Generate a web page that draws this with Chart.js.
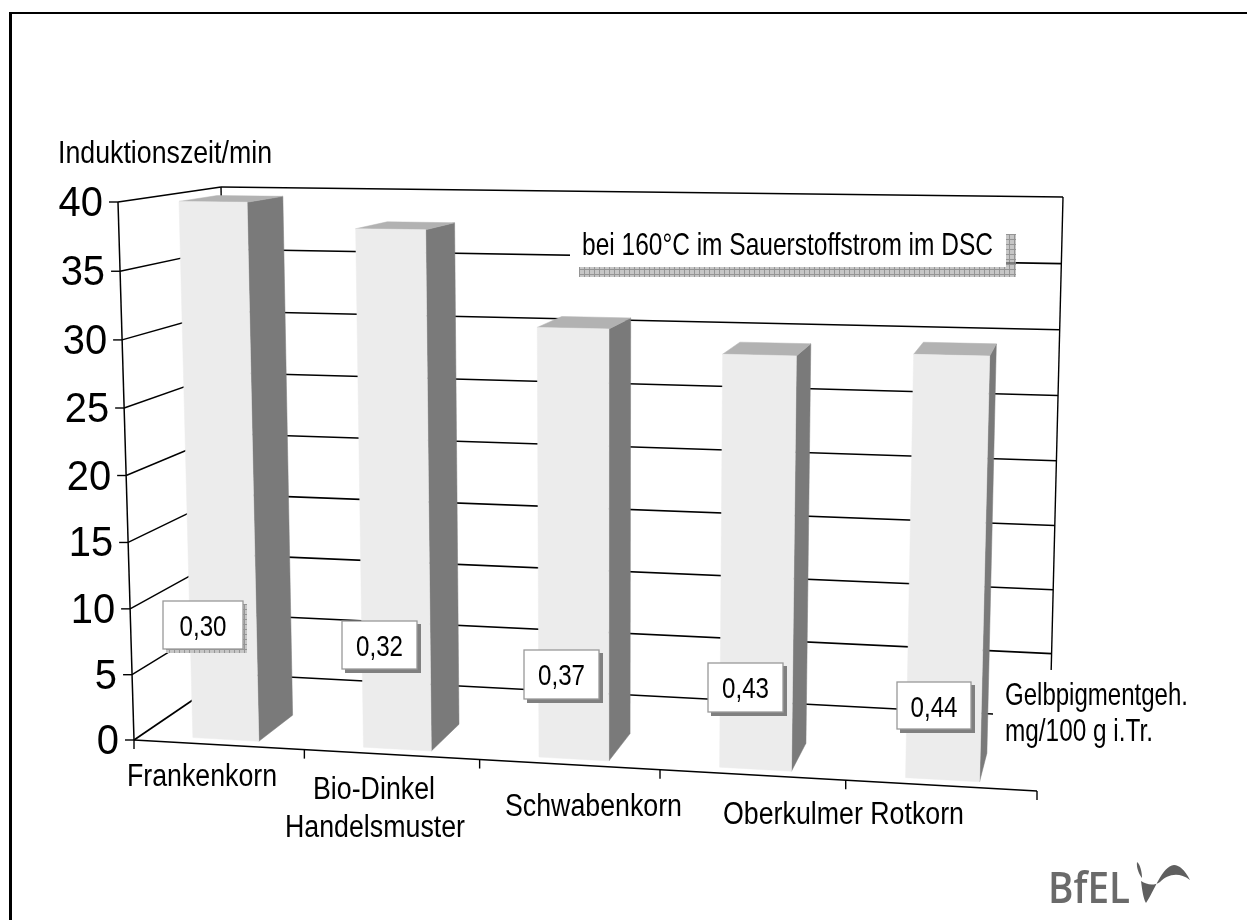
<!DOCTYPE html>
<html><head><meta charset="utf-8">
<style>html,body{margin:0;padding:0;background:#fff}canvas{display:block}</style>
<script src="https://cdn.jsdelivr.net/npm/chart.js@4"></script>
</head><body>
<canvas id="c" width="1247" height="920"></canvas>
<script>
const categories = ['Frankenkorn', ['Bio-Dinkel', 'Handelsmuster'], 'Schwabenkorn', 'Oberkulmer Rotkorn', ''];
const induktionszeit = [40.0, 38.2, 31.4, 29.8, 30.1];
const gelbpigment = ['0,30', '0,32', '0,37', '0,43', '0,44'];
const yTitle = 'Induktionszeit/min';
const noteText = 'bei 160°C im Sauerstoffstrom im DSC';
const sideTitle = ['Gelbpigmentgeh.', 'mg/100 g i.Tr.'];

// perspective frame of the 3D box
const FRONT = {bl:[134,740], br:[1037,791], tr:[1053,213], tl:[118,202]};
const BACK  = {bl:[231,674], br:[1050,717], tr:[1063,197], tl:[221,187]};
const BAR_W0 = 0.08, BAR_W1 = 0.47;
const C = {front:'#ececec', side:'#7a7a7a', top:'#b2b2b2'};

function homography(q){
  const [x0,y0]=q.bl,[x1,y1]=q.br,[x2,y2]=q.tr,[x3,y3]=q.tl;
  const dx1=x1-x2,dx2=x3-x2,sx=x0-x1+x2-x3,dy1=y1-y2,dy2=y3-y2,sy=y0-y1+y2-y3;
  const den=dx1*dy2-dx2*dy1,g=(sx*dy2-dx2*sy)/den,h=(dx1*sy-sx*dy1)/den;
  const a=x1-x0+g*x1,b=x3-x0+h*x3,d=y1-y0+g*y1,e=y3-y0+h*y3;
  return (u,v)=>{const w=g*u+h*v+1;return [(a*u+b*v+x0)/w,(d*u+e*v+y0)/w];};
}
const hF=homography(FRONT),hB=homography(BACK);
function P(u,v,w){const f=hF(u,v),b=hB(u,v);return [f[0]+(b[0]-f[0])*w,f[1]+(b[1]-f[1])*w];}

function line(ctx,a,b,lw){ctx.lineWidth=lw||1.5;ctx.strokeStyle='#000';ctx.beginPath();ctx.moveTo(a[0],a[1]);ctx.lineTo(b[0],b[1]);ctx.stroke();}
function poly(ctx,pts,fill){ctx.fillStyle=fill;ctx.beginPath();pts.forEach((p,i)=>i?ctx.lineTo(p[0],p[1]):ctx.moveTo(p[0],p[1]));ctx.closePath();ctx.fill();ctx.strokeStyle=fill;ctx.lineWidth=0.5;ctx.stroke();}
// text fitted to a measured width: size sets the height, width sets the horizontal scale
function text(ctx,s,x,base,size,width,fam,col){
  ctx.save();ctx.font=(fam||size+'px "Liberation Sans"');ctx.fillStyle=col||'#000';ctx.textAlign='left';ctx.textBaseline='alphabetic';
  const m=ctx.measureText(s).width;ctx.translate(x,base);ctx.scale(width?width/m:1,1);ctx.fillText(s,0,0);ctx.restore();
}
let hatch=null;
function hatchPattern(ctx){
  if(hatch)return hatch;
  const p=document.createElement('canvas');p.width=5;p.height=5;const g=p.getContext('2d');
  g.fillStyle='#c6c6c6';g.fillRect(0,0,5,5);g.fillStyle='#959595';g.fillRect(0,4,5,1);g.fillRect(4,0,1,5);
  hatch=ctx.createPattern(p,'repeat');return hatch;
}
// layout of the annotations
const BOXES=[[163,601,80,48,true],[342,621,75,48,false],[524,650,75,49,false],[708,663,75,49,false],[897,682,74,47,false]];
const XLABELS=[[[127,786,150]],[[313,799,122],[285,837,180]],[[505,816,177]],[[723,824,241]],[]];

const scene={
  id:'scene',
  beforeDraw(ch){const c=ch.ctx;c.save();c.fillStyle='#fff';c.fillRect(0,0,ch.width,ch.height);
    c.fillStyle='#000';c.fillRect(10,12,ch.width-10,2);c.fillRect(9,12,3,ch.height-12);c.restore();},
  beforeDatasetsDraw(ch){
    const c=ch.ctx,y=ch.scales.y,a=ch.chartArea;c.save();c.lineCap='butt';
    y.ticks.forEach(t=>{
      const v=(a.bottom-y.getPixelForValue(t.value))/(a.bottom-a.top);
      line(c,P(0,v,0),P(0,v,1),t.value===0||t.value===40?1.7:1.4);
      line(c,P(0,v,1),P(1,v,1),1.6);
    });
    line(c,P(0,0,1),P(0,1,1),1.4);
    line(c,P(1,0,1),P(1,1,1),1.4);
    c.restore();
  },
  beforeDatasetDraw(ch,args){
    const c=ch.ctx,a=ch.chartArea,meta=args.meta;c.save();
    meta.data.forEach(b=>{
      const u0=(b.x-b.width/2-a.left)/(a.right-a.left),u1=(b.x+b.width/2-a.left)/(a.right-a.left);
      const v=(a.bottom-b.y)/(a.bottom-a.top),v0=(a.bottom-b.base)/(a.bottom-a.top);
      poly(c,[P(u1,v0,BAR_W0),P(u1,v0,BAR_W1),P(u1,v,BAR_W1),P(u1,v,BAR_W0)],C.side);
      poly(c,[P(u0,v,BAR_W0),P(u1,v,BAR_W0),P(u1,v,BAR_W1),P(u0,v,BAR_W1)],C.top);
      poly(c,[P(u0,v0,BAR_W0),P(u1,v0,BAR_W0),P(u1,v,BAR_W0),P(u0,v,BAR_W0)],C.front);
    });
    c.restore();return false;
  },
  afterDatasetsDraw(ch){
    const c=ch.ctx,y=ch.scales.y,x=ch.scales.x,a=ch.chartArea;c.save();
    // front axes
    line(c,P(0,0,0),P(0,1,0),1.5);
    line(c,P(0,0,0),P(1,0,0),1.7);
    y.ticks.forEach(t=>{
      const v=(a.bottom-y.getPixelForValue(t.value))/(a.bottom-a.top),p=P(0,v,0);
      line(c,[p[0]-9,p[1]],p,1.4);
      c.font='42px "Liberation Sans"';const s=String(t.value),m=c.measureText(s).width*0.95;
      text(c,s,p[0]-15-m,p[1]+14,42,m);
    });
    for(let i=0;i<=categories.length;i++){
      const px=i<categories.length?(x.getPixelForValue(i)-(a.right-a.left)/categories.length/2):a.right;
      const p=P((px-a.left)/(a.right-a.left),0,0);
      line(c,p,[p[0],p[1]+9],1.4);
    }
    // category labels
    categories.forEach((lab,i)=>{[].concat(lab).forEach((s,k)=>{const L=XLABELS[i][k];if(L&&s)text(c,s,L[0],L[1],31,L[2]);});});
    text(c,yTitle,58,163,31.5,214);
    // note box
    c.fillStyle='#fff';c.fillRect(570,225,436,42);
    c.fillStyle=hatchPattern(c);c.fillRect(579,267,437,10);c.fillRect(1006,234,10,33);
    c.strokeStyle='#666';c.lineWidth=1.5;c.beginPath();c.moveTo(1006,263);c.lineTo(1016,263);c.stroke();
    text(c,noteText,582,255,30.5,411);
    // side title box
    c.fillStyle='#fff';c.fillRect(993,670,200,80);c.fillRect(993,720,60,60);
    text(c,sideTitle[0],1005,705,30.5,183);
    text(c,sideTitle[1],1005,741,30.5,148);
    // Gelbpigment boxes
    gelbpigment.forEach((s,i)=>{
      const [bx,by,bw,bh,h]=BOXES[i];
      c.fillStyle=h?hatchPattern(c):'#808080';
      c.fillRect(bx+3,by+3,bw+1,bh+1);
      c.fillStyle='#fff';c.fillRect(bx,by,bw,bh);
      c.strokeStyle='#999';c.lineWidth=1.3;c.strokeRect(bx,by,bw,bh);
      text(c,s,bx+(bw-47)/2,by+35,30,47);
    });
    // BfEL logo
    text(c,'BfEL',1048,903,43,82,'600 43px "Open Sans"','#6a6a6a');
    c.fillStyle='#5f5f5f';
    c.beginPath();c.moveTo(1137,862);c.bezierCurveTo(1140,864,1142,872,1142,878);c.bezierCurveTo(1140,876,1136,868,1137,862);c.closePath();c.fill();
    c.beginPath();c.moveTo(1141,881);c.bezierCurveTo(1147,885,1154,886,1160,882);c.bezierCurveTo(1167,875,1178,871,1190,880);
    c.bezierCurveTo(1185,870,1179,865,1174,865);c.bezierCurveTo(1162,866,1154,892,1146,903);c.bezierCurveTo(1143,898,1142,888,1141,881);c.closePath();c.fill();
    c.restore();
  }
};
new Chart(document.getElementById('c'),{
  type:'bar',
  data:{labels:categories,datasets:[{label:yTitle,data:induktionszeit,backgroundColor:C.front,barPercentage:0.39,categoryPercentage:1}]},
  options:{responsive:false,animation:false,
    layout:{padding:{left:118,right:194,top:202,bottom:180}},
    plugins:{legend:{display:false},tooltip:{enabled:false},title:{display:false}},
    scales:{
      x:{display:false,offset:true,grid:{display:false}},
      y:{display:false,min:0,max:40,ticks:{stepSize:5},grid:{display:false}}
    }},
  plugins:[scene]
});
</script>
</body></html>
